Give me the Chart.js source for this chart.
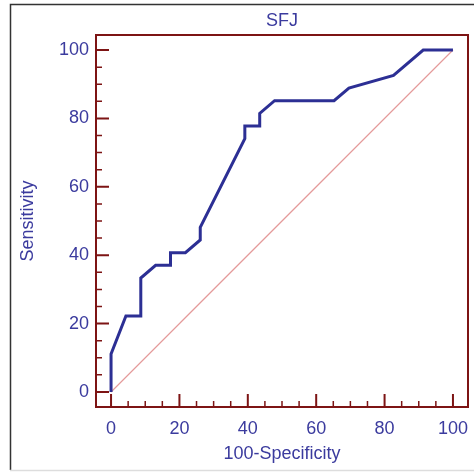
<!DOCTYPE html>
<html>
<head>
<meta charset="utf-8">
<title>SFJ</title>
<script src="https://cdn.jsdelivr.net/npm/chart.js@4.4.1/dist/chart.umd.min.js"></script>
<style>
  html, body { margin: 0; padding: 0; background: #fff; }
</style>
</head>
<body>
<canvas id="roc" width="474" height="472"></canvas>
<script>
// ROC curve steps: 100-Specificity (x) and Sensitivity (y), in %
const falsePos = [0, 0, 4.35, 8.70, 8.70, 13.04, 17.39, 17.39, 21.74, 26.09, 26.09,
  39.13, 39.13, 43.48, 43.48, 47.83, 65.22, 69.57, 82.61, 91.30, 100];
const sensitivity = [0, 11.11, 22.22, 22.22, 33.33, 37.04, 37.04, 40.74, 40.74, 44.44, 48.15,
  74.07, 77.78, 77.78, 81.48, 85.19, 85.19, 88.89, 92.59, 100, 100];

// chance line
const chanceX = [0, 100];
const chanceY = [0, 100];

const tickValues = [0, 20, 40, 60, 80, 100];

const curveBlue = '#2c2f94';
const textBlue = '#3b3b9e';
const frameRed = '#7d1414';
const fontFamily = '"Liberation Sans", Arial, sans-serif';

function toPoints(xs, ys) {
  return xs.map((x, i) => ({ x: x, y: ys[i] }));
}

// outer border, plot frame and inward tick marks
const framePlugin = {
  id: 'frame',
  beforeDraw(chart) {
    const ctx = chart.ctx;
    ctx.save();
    ctx.fillStyle = '#fff';
    ctx.fillRect(0, 0, chart.width, chart.height);
    ctx.strokeStyle = '#333';
    ctx.lineWidth = 1.5;
    ctx.beginPath();
    ctx.moveTo(10.5, chart.height - 2);
    ctx.lineTo(10.5, 4.5);
    ctx.lineTo(chart.width, 4.5);
    ctx.stroke();
    ctx.strokeStyle = '#ddd';
    ctx.beginPath();
    ctx.moveTo(10, chart.height - 1.5);
    ctx.lineTo(chart.width, chart.height - 1.5);
    ctx.stroke();
    ctx.restore();
  },
  afterDatasetsDraw(chart) {
    const { ctx, chartArea: a, scales } = chart;
    ctx.save();
    ctx.strokeStyle = frameRed;
    for (let v = 0; v <= 100; v += 5) {
      const major = v % 20 === 0;
      const len = major ? 13 : 6;
      ctx.lineWidth = major ? 2 : 1.5;
      const px = scales.x.getPixelForValue(v);
      const py = scales.y.getPixelForValue(v);
      ctx.beginPath();
      ctx.moveTo(px, a.bottom);
      ctx.lineTo(px, a.bottom - len);
      ctx.moveTo(a.left, py);
      ctx.lineTo(a.left + len, py);
      ctx.stroke();
    }
    ctx.lineWidth = 2;
    ctx.strokeRect(a.left, a.top, a.right - a.left, a.bottom - a.top);
    ctx.restore();
  }
};

const labelFont = { family: fontFamily, size: 18 };

new Chart(document.getElementById('roc'), {
  type: 'line',
  data: {
    datasets: [
      {
        label: 'SFJ',
        data: toPoints(falsePos, sensitivity),
        borderColor: curveBlue,
        borderWidth: 3,
        pointRadius: 0,
        tension: 0,
        fill: false
      },
      {
        label: 'Chance',
        data: toPoints(chanceX, chanceY),
        borderColor: '#e49a9a',
        borderWidth: 1.2,
        pointRadius: 0,
        fill: false
      }
    ]
  },
  options: {
    responsive: false,
    animation: false,
    layout: { padding: { left: 0, top: 10, right: 6, bottom: 0 } },
    plugins: {
      legend: { display: false },
      tooltip: { enabled: false },
      title: {
        display: true,
        text: 'SFJ',
        fullSize: false,
        color: textBlue,
        font: { family: fontFamily, size: 18, weight: 'normal' },
        padding: { top: 0, bottom: 3.4 }
      }
    },
    scales: {
      x: {
        type: 'linear',
        min: -4.4,
        max: 104.4,
        grid: { display: false, drawTicks: false },
        border: { display: false },
        afterBuildTicks: s => { s.ticks = tickValues.map(v => ({ value: v })); },
        afterFit: s => {
          s.height = 65;
          s.paddingLeft = 0;
          s.paddingRight = 0;
        },
        ticks: { color: textBlue, font: labelFont, padding: 11, maxRotation: 0 },
        title: {
          display: true,
          text: '100-Specificity',
          color: textBlue,
          font: labelFont,
          padding: { top: 0, bottom: 7 }
        }
      },
      y: {
        type: 'linear',
        min: -4.4,
        max: 104.4,
        grid: { display: false, drawTicks: false },
        border: { display: false },
        afterBuildTicks: s => { s.ticks = tickValues.map(v => ({ value: v })); },
        afterFit: s => {
          s.width = 96;
          s.paddingTop = 0;
          s.paddingBottom = 0;
        },
        ticks: { color: textBlue, font: labelFont, padding: 7 },
        title: {
          display: true,
          text: 'Sensitivity',
          color: textBlue,
          font: labelFont,
          padding: { top: 17, bottom: 0 }
        }
      }
    }
  },
  plugins: [framePlugin]
});
</script>
</body>
</html>
